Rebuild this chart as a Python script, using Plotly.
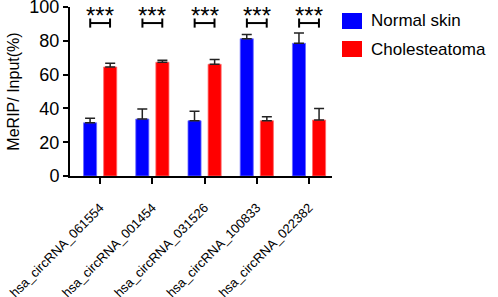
import plotly.graph_objects as go

categories = ["hsa_circRNA_061554", "hsa_circRNA_001454", "hsa_circRNA_031526",
              "hsa_circRNA_100833", "hsa_circRNA_022382"]
normal_skin = [31.5, 33.7, 32.7, 81.2, 78.5]
normal_err = [2.6, 5.9, 5.6, 2.6, 6.1]
cholesteatoma = [64.5, 67.3, 66.1, 32.7, 33.1]
chol_err = [2.2, 1.2, 2.9, 2.4, 6.9]
significance = ["***", "***", "***", "***", "***"]
y_ticks = [0, 20, 40, 60, 80, 100]

FONT = "Liberation Sans, Arial, sans-serif"
BLUE = "#0000FF"
RED = "#FF0000"

fig = go.Figure()
fig.add_trace(go.Bar(
    x=categories, y=normal_skin, name="Normal skin",
    marker=dict(color=BLUE, line=dict(color="#6a6aff", width=0.8)),
    error_y=dict(type="data", array=normal_err, arrayminus=[0]*5, symmetric=False,
                 color="#222222", thickness=1.5, width=5),
))
fig.add_trace(go.Bar(
    x=categories, y=cholesteatoma, name="Cholesteatoma",
    marker=dict(color=RED, line=dict(color="#ff6a6a", width=0.8)),
    error_y=dict(type="data", array=chol_err, arrayminus=[0]*5, symmetric=False,
                 color="#222222", thickness=1.5, width=5),
))

# significance brackets
off = 0.19
for i, s in enumerate(significance):
    fig.add_shape(type="line", xref="x", yref="y", x0=i - off, x1=i + off, y0=90.5, y1=90.5,
                  line=dict(color="black", width=2))
    for xx in (i - off, i + off):
        fig.add_shape(type="line", xref="x", yref="y", x0=xx, x1=xx, y0=87.8, y1=93.2,
                      line=dict(color="black", width=2))
    fig.add_annotation(x=i, y=96.5, xref="x", yref="y", text=s, showarrow=False,
                       font=dict(family=FONT, size=24, color="black"),
                       yanchor="middle", yshift=-3)

# manual legend
legend_items = [("Normal skin", BLUE), ("Cholesteatoma", RED)]
W, H = 498, 297
for k, (name, col) in enumerate(legend_items):
    y_top = 13 + k * 28
    fig.add_shape(type="rect", xref="paper", yref="paper",
                  x0=(342 - 70) / 262, x1=(362 - 70) / 262,
                  y0=(176 - (y_top + 16)) / 169, y1=(176 - y_top) / 169,
                  fillcolor=col, line=dict(color=col, width=0))
    fig.add_annotation(xref="paper", yref="paper", x=(369 - 70) / 262,
                       y=(176 - (y_top + 8)) / 169, text=name, showarrow=False,
                       xanchor="left", yanchor="middle",
                       font=dict(family=FONT, size=17, color="black"))

fig.update_layout(
    template="none",
    width=W, height=H,
    margin=dict(l=70, r=166, t=7, b=121, autoexpand=False),
    plot_bgcolor="white", paper_bgcolor="white",
    barmode="group", bargap=0.23, bargroupgap=0.35,
    showlegend=False,
    font=dict(family=FONT, color="black"),
)
fig.update_xaxes(
    automargin=False,
    range=[-0.577, 4.44], showline=True, linecolor="black", linewidth=2,
    ticks="outside", ticklen=6, tickwidth=2, tickcolor="black",
    tickangle=-45, tickfont=dict(size=13, family=FONT),
    ticklabelstandoff=11, ticklabelshift=0,
    showgrid=False, zeroline=False,
)
fig.update_yaxes(
    automargin=False, ticklabeloverflow="allow",
    range=[0, 100], tickvals=y_ticks, showline=True, linecolor="black", linewidth=2,
    ticks="outside", ticklen=5, tickwidth=2, tickcolor="black",
    tickfont=dict(size=18, family=FONT), showgrid=False, zeroline=False,
    title=dict(text="MeRIP/ Input(%)", font=dict(size=16, family=FONT), standoff=6),
)

fig.write_html("out.html", config={"displayModeBar": False},
               post_script="document.body.style.margin='0';")
